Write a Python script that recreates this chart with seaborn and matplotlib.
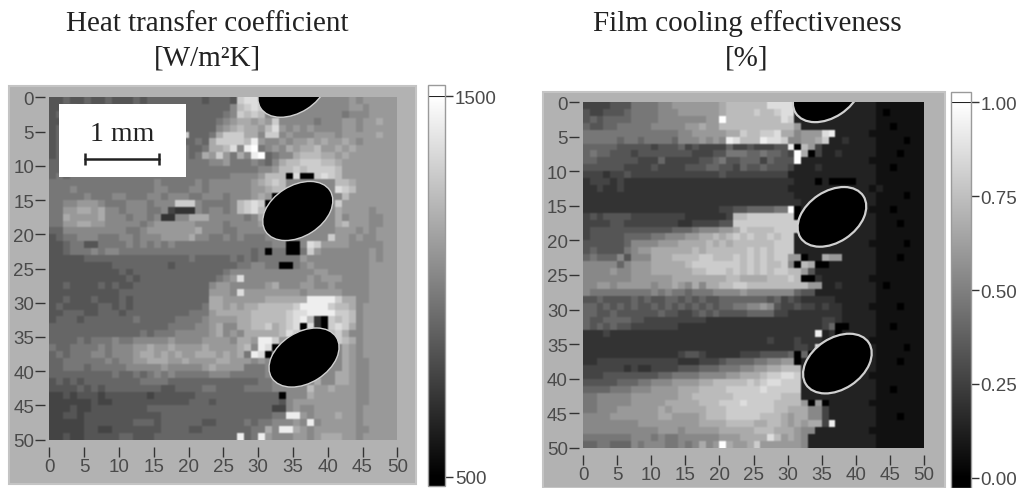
import matplotlib
matplotlib.use('Agg')
import matplotlib.pyplot as plt
from matplotlib.patches import Ellipse, Rectangle
import numpy as np
import pandas as pd
import seaborn as sns

# grey levels, 0 = black ... f = white, one char per cell
heat_rows = [
    "5565565565 5565666666 6656665cdd d888888888 8889899999",
    "5556555555 5566666666 6666668bcd c888888888 8889989999",
    "5665556655 5566666666 6666678cbc b888888888 8878889999",
    "5565566566 5666666766 6666789aa9 a9c8888878 8899899a99",
    "5665666666 6666666676 666689abaa 9bd9898988 8899899999",
    "5666566666 666666666c 6667acccaa 8cc8988899 9899999a99",
    "5665666666 6666666676 676accccbe 9889899a9a 99a9899999",
    "5666666666 6666666677 667aabd8ef 7898a9aab9 9a9a999999",
    "5666666666 6666666677 67a9c97a8e f6788abbba a9a9999999",
    "6666666666 6666666677 7778897778 768abbcccb ba99999999",
    "6666666666 6666666677 7777777777 889bbcbccc cb99999999",
    "6767777777 7777777777 7777778888 9bbb0d00cd cb99999999",
    "7777777777 7777787777 7878888889 abcb888888 8bba999999",
    "7778777777 7777788777 8878888889 9abb888888 8dcb999999",
    "7777787778 8777887888 7788878889 a900888888 88b9999999",
    "7788999877 78887888cc c877778bcd c088888888 8c99999999",
    "7799aa9a88 7888778433 3878878bcd b888888888 8a99998999",
    "77a9999a88 8788783388 aaa8888878 a888888888 8a89998899",
    "7799aa9988 8887899999 9888878888 9888888888 8ab9998899",
    "6688888888 8778999999 9a88877888 8888888888 8999898999",
    "5677888777 8878889999 a887787877 7888888888 c998988999",
    "5567755777 7878787877 7777777777 7788008dc9 9998888899",
    "5567778788 7777777777 7777777776 7077007c98 8888889899",
    "5555566666 6666666666 7666667676 7777779888 8888889899",
    "5555555556 6666666566 6666666778 8770078988 8888889999",
    "5555555555 6566666666 6666678888 8888888899 8888889999",
    "5555555555 5656666666 6666789d88 8888888989 9988889999",
    "5565555656 5566666666 6668998888 89a8889988 9888889999",
    "5555555555 6666666666 6669998d99 9999998999 9988889999",
    "5565556555 6566666666 666aa99999 9aaaaaaeee ecaa889999",
    "5655555665 6566666666 667aa9a9aa bbbbbceeee cbba899999",
    "5566655666 5666666666 7779aaaaab bbbbcddeee eccb899999",
    "5666566666 6676666677 7789999aab bbbbcdeb30 cbcb899999",
    "6666666666 6666666777 7889a88aab bcabcd0d30 cdca899999",
    "6666666666 6667677788 8889a898aa aaabdcaacc bca8899999",
    "6666767778 7788888988 8899998aa9 eec9888888 8cba899999",
    "7667777878 8899a99a99 99a9999ab8 ed08888888 88a9899999",
    "6767778878 889aa9a9a9 9aaa9a9a7e d088888888 88a9899999",
    "6677777787 8899aaa99a 9999aa9998 9888888888 88a9889999",
    "6677767777 7888889888 889a999977 7888888888 88a9889999",
    "6666666667 6676787877 7778887777 7888888888 8aa9889999",
    "5656566666 6667777666 6666666666 77888888a8 8aa9889999",
    "5555656566 6666665566 6677666677 7788888b99 a999889999",
    "4454555455 5555455555 5666666666 6660888a99 9999889999",
    "4444445445 5555555555 6665666666 6665899999 9999889999",
    "4445445555 5555666666 6666666666 6644898899 9999899999",
    "4455455555 5555556666 6666666666 6677ee9899 9a99899999",
    "4444455555 5566656666 6655666676 7788898e89 9999899999",
    "4444455445 5555556666 5566666667 7a8eea9899 9999889999",
    "4454455555 6655566666 6666666e67 e98889989a aa99899999",
]

effect_rows = [
    "4444555777 7889999999 abbbbbbddd d222222222 2221111111",
    "5445556777 7888999999 abbbbcbbcd d222222222 2221011111",
    "5656666777 7888888899 fbbbbbbbbd c222222222 2221111111",
    "6556677777 8888899a99 bbbbbbbbbb b922222222 2221101111",
    "7777777777 7777889999 9aacbbccda a8999de222 2211111111",
    "7777767767 7776888989 8edbbbeddc 8899ac2232 2221111011",
    "6666655555 4555645444 4644544455 e0b9422222 2221111111",
    "6766555455 5555554445 5777667665 4fa0422322 2221110111",
    "6655555544 4644444556 7556664655 5f22222222 2211111111",
    "5555554444 5444455566 5546556555 4222322222 2221101111",
    "4443445444 4444444444 5444444444 2222222222 2221111111",
    "3444343333 3333333333 3333333333 3222020000 2221111111",
    "3343343333 3333333333 3333333333 2222222222 2212111111",
    "3333333333 3333333333 3333333333 3222222222 2221111011",
    "3333333333 3333333333 3333333333 3322222222 2221111111",
    "3333333333 3333333333 4455666677 f022222222 2211101111",
    "4545555444 4444433333 34bbcccccc c022222222 2221111111",
    "4444554444 4444334444 55cccccccc cc22222222 2221110111",
    "4555555555 5556667888 99acbbbbcc cc22222222 2221111111",
    "4555556666 7788899aab abcbcbbcbc c222222222 2221111111",
    "5555556888 8999aaaaba babbbbbbcc c222222222 2211111011",
    "5655557899 aaaaaababb bbbbcbcbcc c222222222 2221111111",
    "6766685888 aaabbbbccb bbcbcbcbcc 99022a9922 2221110111",
    "8888868999 aaaaabcccc cccbcbcbbc 80ba002222 2221111111",
    "8888988999 aaaaaabbcc cbcbcbcbcc bb95222222 2221111111",
    "8888888999 999aaaaaaa abbaaaabbb cb00322222 2211111111",
    "8899899999 899a98a8aa bbccbbbbbb bbb9922322 2221011111",
    "8777777777 8787767778 8889888888 8655222222 2221111111",
    "5565555656 5566565655 6666666564 5433333222 2221111111",
    "6656565655 6565656565 6677889854 4544343322 2211110111",
    "6655655555 5655445656 5555666644 3333333322 2221111111",
    "6556666554 4444444433 3333333333 3333344322 2221111111",
    "6565655444 4444333333 3333333333 3333346002 2221101111",
    "3334333333 3333333333 3333333333 3333e23022 2221111111",
    "3333333333 3333333333 3333333433 3433322222 2211111111",
    "3333333333 3333333333 3333333333 3443d22222 2221111011",
    "3333333333 3333455433 3334445555 6060222222 2221111111",
    "3344444444 4444333444 5666677889 9022222222 2221110111",
    "4444443433 4444555666 7778899aab bb22222222 2221111111",
    "4445555555 5667777888 899aaabccd dc22222222 2211111111",
    "5555566677 8889999aab bbbbcbcddc cc22222222 2221111111",
    "6666777888 9999aaabbb bcccccdccc cc22222222 2221101111",
    "7788888999 9999aabbbb bbcccccccb bb22222222 2221111111",
    "7788888999 99aaaaabbb cccdccccbb bb90902222 2211111111",
    "7788899999 9a9aaaaabb bcccccccbb aaa8842222 2221111111",
    "8888999999 9aa9999abb bcccccbbba 9aa8842222 2221110111",
    "8888888899 9999999aaa abbbbaabba 9a9aa4e222 2221111111",
    "8888888888 8999899999 aaaaabbbaa a988222222 2211111111",
    "7777777888 7877888888 999aaaadb9 a982222222 2221111111",
    "6677666878 8877878a89 fa99ac9999 9982222222 2221111111",
]

# holes: centre x, centre y, width, height
heat_holes = [(35.0, -1.4, 11.0, 7.4), (35.7, 16.6, 11.0, 7.4), (36.6, 38.0, 11.0, 7.4)]
effect_holes = [(35.8, -1.4, 11.0, 7.4), (36.5, 16.6, 11.0, 7.4), (37.3, 37.8, 11.0, 7.4)]

axis_ticks = list(range(0, 51, 5))
heat_ticks = [-500, 1500]
heat_labels = ['500', '1500']
effect_ticks = [0, 0.25, 0.5, 0.75, 1.0]
effect_labels = ['0.00', '0.25', '0.50', '0.75', '1.00']

W, H = 1022, 489
TICK = '#4a4a4a'


def levels(rows, low, high):
    grid = [[int(c, 16) / 15 for c in r.replace(' ', '')] for r in rows]
    return pd.DataFrame(low + (high - low) * np.array(grid))


def soften(img, dpi):
    # the scan is blurry, so smooth the cells a little
    out = img
    for axis in (0, 1):
        pad = [(1, 1) if i == axis else (0, 0) for i in range(3)]
        p = np.pad(out, pad, mode='edge')
        if axis == 0:
            out = (p[:-2] + 2 * p[1:-1] + p[2:]) / 4
        else:
            out = (p[:, :-2] + 2 * p[:, 1:-1] + p[:, 2:]) / 4
    return out, 0, 0


def px_axes(fig, x0, y0, x1, y1):
    return fig.add_axes([x0 / W, 1 - y1 / H, (x1 - x0) / W, (y1 - y0) / H])


def draw_panel(fig, data, low, high, box, main, bar, frac, holes, edge_lw, cticks, clabels):
    fig.add_artist(Rectangle((box[0] / W, 1 - box[3] / H), (box[2] - box[0]) / W, (box[3] - box[1]) / H,
                             transform=fig.transFigure, facecolor='#b2b2b2', edgecolor='#c4c4c4', lw=1.5, zorder=-1))
    ax = px_axes(fig, *main)
    cax = px_axes(fig, *bar)
    cmap = matplotlib.colormaps['gray'].with_extremes(over='white', under='black')
    sns.heatmap(data, ax=ax, cbar_ax=cax, cmap=cmap, vmin=low, vmax=high,
                xticklabels=False, yticklabels=False,
                cbar_kws={'extend': 'both', 'extendrect': True, 'extendfrac': frac})
    ax.collections[0].set_agg_filter(soften)
    for x, y, w, h in holes:
        ax.add_patch(Ellipse((x, y), w, h, angle=-33, facecolor='black', edgecolor='#d0d0d0', lw=edge_lw))

    ax.set_xticks(axis_ticks)
    ax.set_xticklabels(axis_ticks, rotation=0)
    ax.set_yticks(axis_ticks)
    ax.set_yticklabels(axis_ticks, rotation=0)
    ax.spines['bottom'].set_position(('outward', 5))
    ax.spines['left'].set_position(('outward', 3))
    ax.tick_params(axis='both', bottom=True, left=True, length=7, width=1, color='#333333',
                   labelcolor=TICK, labelsize=13.5, pad=1)

    cbar = ax.collections[0].colorbar
    cbar.set_ticks(cticks)
    cbar.set_ticklabels(clabels)
    cbar.ax.minorticks_off()
    cbar.ax.tick_params(right=True, length=6, width=1, color='#333333', labelcolor=TICK, labelsize=13.5, pad=1)
    cbar.ax.axhline(high, color='#222222', lw=1.5)
    cbar.outline.set_linewidth(1)
    cbar.outline.set_edgecolor('#9a9a9a')
    return ax


sns.set_theme(style='white')
plt.rcParams['font.family'] = ['Liberation Sans', 'DejaVu Sans']

fig = plt.figure(figsize=(W / 100, H / 100), dpi=100)

heat_ax = draw_panel(fig, levels(heat_rows, -500, 1500), -500, 1500,
                     (9, 87, 416, 485), (49.3, 98.3, 397.3, 440.7), (428, 86, 445, 487),
                     [0.024, 0.029], heat_holes, 1.0, heat_ticks, heat_labels)
draw_panel(fig, levels(effect_rows, 0, 1), 0, 1,
           (543, 93, 945, 489), (583, 103, 924, 449), (951, 93, 971, 489),
           [0.027, 0.027], effect_holes, 1.6, effect_ticks, effect_labels)

# scale bar box
heat_ax.add_patch(Rectangle((1.4, 1.0), 18.3, 10.6, facecolor='white', edgecolor='none', zorder=3))
heat_ax.plot([5.1, 15.8], [9.0, 9.0], color='#222222', lw=1.8, marker='|', ms=9, mew=1.8, zorder=4)
heat_ax.text(10.5, 5.3, '1 mm', ha='center', va='center', family='Liberation Serif',
             fontsize=20, color='#222222', zorder=4)

for x, top, bottom in [(207, 'Heat transfer coefficient', '[W/m²K]'), (747, 'Film cooling effectiveness', '[%]')]:
    fig.text(x / W, 1 - 24 / H, top, ha='center', va='center', family='Liberation Serif', fontsize=21, color='#222222')
    fig.text(x / W, 1 - 58 / H, bottom, ha='center', va='center', family='Liberation Serif', fontsize=21, color='#222222')

fig.savefig('out.png', dpi=100)
